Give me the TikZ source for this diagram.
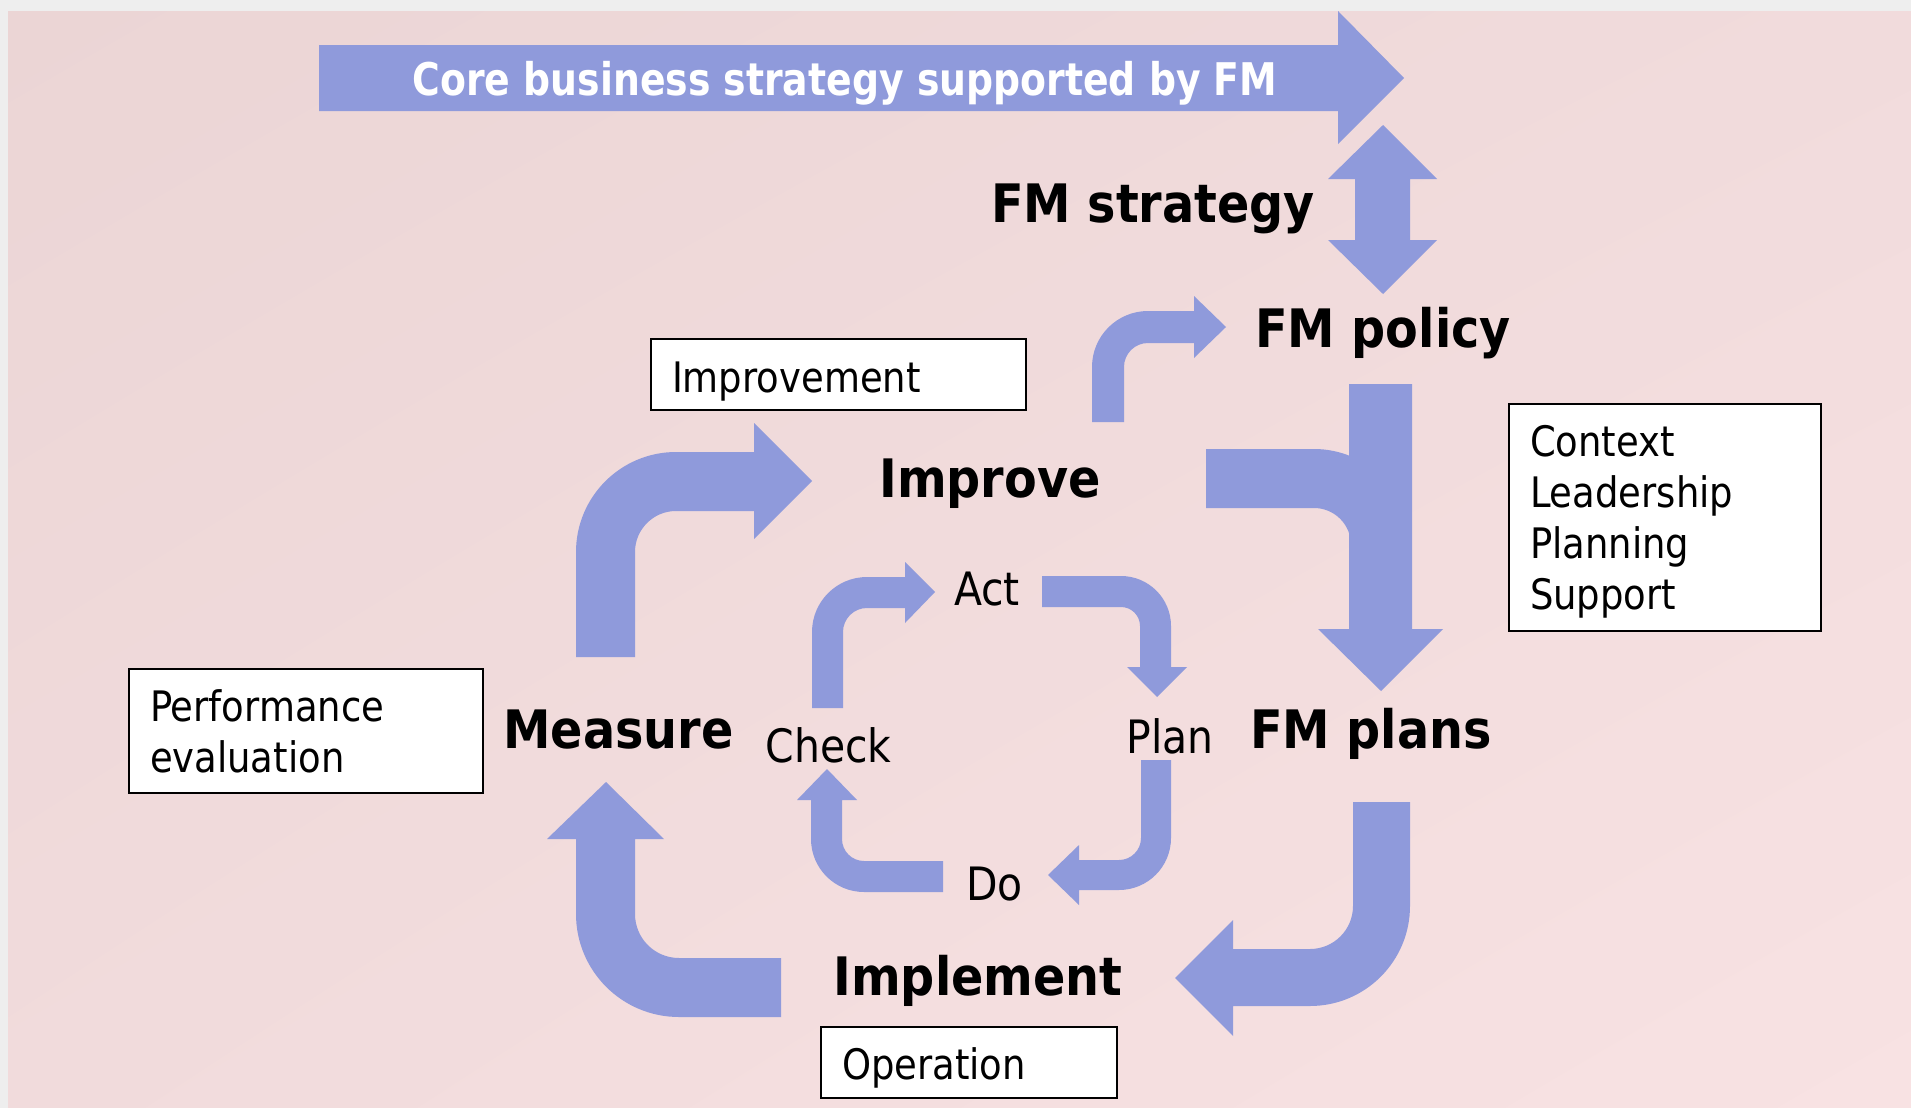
\documentclass[tikz,border=0pt]{standalone}
\usepackage{fontspec}
\usetikzlibrary{shadings}
\setmainfont{DejaVu Sans}[FakeStretch=0.88, BoldFeatures={FakeStretch=0.9}]
\newfontfamily\bannerfont{DejaVu Sans}[FakeStretch=0.84]
\newfontfamily\midfont{DejaVu Sans}[FakeStretch=0.89]
\definecolor{flowc}{HTML}{8F9ADB}
\definecolor{bgtl}{HTML}{EBD5D5}
\definecolor{bgmid}{HTML}{F1DBDC}
\definecolor{bgbr}{HTML}{F8E2E3}
\definecolor{margin}{HTML}{EEEEEE}
\newcommand{\lowerby}[2]{\raisebox{-#1}[\height][\depth]{#2}}
\tikzset{
  flow/.style={fill=flowc, draw=none},
  bigl/.style={inner sep=0pt, anchor=base, font=\fontsize{26.5}{30}\selectfont\bfseries},
  midl/.style={inner sep=0pt, anchor=base, font=\midfont\fontsize{23}{27}\selectfont},
  bannerl/.style={inner sep=0pt, anchor=base, text=white, font=\bannerfont\fontsize{22.5}{26}\selectfont\bfseries},
  box/.style={draw=black, line width=0.75pt, fill=white, anchor=north west,
    inner xsep=10.5pt, inner ysep=0pt, outer sep=0pt, align=left,
    font=\fontsize{21}{25.5}\selectfont}
}
\begin{document}
\begin{tikzpicture}[x=0.5pt,y=-0.5pt]
\useasboundingbox (0,0) rectangle (1911,1108);
% background
\fill[margin] (0,0) rectangle (1911,1108);
\shade[upper left=bgtl, upper right=bgmid, lower left=bgmid, lower right=bgbr] (8,11) rectangle (1911,1108);

% banner arrow
\fill[flow] (319,45) -- (1338,45) -- (1338,11) -- (1404,78) -- (1338,144) -- (1338,111) -- (319,111) -- cycle;
% double arrow strategy <-> policy
\fill[flow] (1383,125) -- (1437,179) -- (1410,179) -- (1410,240) -- (1437,240) -- (1383,294)
  -- (1328,240) -- (1355,240) -- (1355,179) -- (1328,179) -- cycle;
% Improve -> FM policy
\fill[flow] (1092,422) -- (1092,367) arc[start angle=180, end angle=270, radius=56]
  -- (1194,311) -- (1194,296) -- (1226,327) -- (1194,358) -- (1194,343) -- (1148,343)
  arc[start angle=270, end angle=180, radius=24] -- (1124,422) -- cycle;
% FM policy -> FM plans
\fill[flow] (1349,384) -- (1412,384) -- (1412,629) -- (1443,629) -- (1381,691) -- (1318,629) -- (1349,629) -- cycle;
\fill[flow] (1206,449) -- (1314,449) arc[start angle=270, end angle=360, radius=96]
  -- (1351,545) arc[start angle=0, end angle=-90, radius=37] -- (1206,508) -- cycle;
% FM plans -> Implement
\fill[flow] (1353,802) -- (1410,802) -- (1410,906) arc[start angle=0, end angle=90, radius=100]
  -- (1233,1006) -- (1233,1036) -- (1175,978) -- (1233,920) -- (1233,949) -- (1310,949)
  arc[start angle=90, end angle=0, radius=43] -- cycle;
% Implement -> Measure
\fill[flow] (781,958) -- (781,1017) -- (679,1017) arc[start angle=90, end angle=180, radius=103]
  -- (576,839) -- (547,839) -- (606,782) -- (664,839) -- (635,839) -- (635,914)
  arc[start angle=180, end angle=90, radius=44] -- cycle;
% Measure -> Improve
\fill[flow] (576,657) -- (576,552) arc[start angle=180, end angle=270, radius=100]
  -- (754,452) -- (754,423) -- (812,481) -- (754,539) -- (754,511) -- (676,511)
  arc[start angle=270, end angle=180, radius=41] -- (635,657) -- cycle;
% Check -> Act
\fill[flow] (812,708) -- (812,632) arc[start angle=180, end angle=270, radius=55]
  -- (905,577) -- (905,562) -- (935,592) -- (905,623) -- (905,608) -- (867,608)
  arc[start angle=270, end angle=180, radius=24] -- (843,708) -- cycle;
% Act -> Plan
\fill[flow] (1042,576) -- (1121,576) arc[start angle=270, end angle=360, radius=50]
  -- (1171,667) -- (1187,667) -- (1157,697) -- (1127,667) -- (1140,667) -- (1140,626)
  arc[start angle=0, end angle=-90, radius=19] -- (1042,607) -- cycle;
% Plan -> Do
\fill[flow] (1141,760) -- (1171,760) -- (1171,838) arc[start angle=0, end angle=90, radius=52]
  -- (1079,890) -- (1079,905) -- (1048,875) -- (1079,845) -- (1079,860) -- (1119,860)
  arc[start angle=90, end angle=0, radius=22] -- cycle;
% Do -> Check
\fill[flow] (943,861) -- (943,892) -- (864,892) arc[start angle=90, end angle=180, radius=53]
  -- (811,800) -- (797,800) -- (827,769) -- (857,800) -- (842,800) -- (842,839)
  arc[start angle=180, end angle=90, radius=22] -- cycle;

% labels
\node[bannerl] (core) at (845,95) {Core business strategy supported by FM};
\node[bigl] (strat) at (1153,222) {FM strategy};
\node[bigl] (policy) at (1383,347) {FM policy};
\node[bigl] (improve) at (990,497) {Improve};
\node[bigl] (measure) at (618.5,748) {Measure};
\node[bigl] (plans) at (1371,748) {FM plans};
\node[bigl] (implement) at (978,995) {Implement};
\node[midl] (act) at (987,605) {Act};
\node[midl] (check) at (828.5,762) {Check};
\node[midl] (plan) at (1170,753) {Plan};
\node[midl] (do) at (994.5,900) {Do};

% boxes
\node[box, minimum width=187.5pt, minimum height=35.5pt, text width=166.5pt] (impbox) at (651,339) {\lowerby{3.5pt}{Improvement}};
\node[box, minimum width=156pt, minimum height=113.5pt, text width=135pt] (ctxbox) at (1509,404)
  {\lowerby{2pt}{Context}\\\lowerby{2pt}{Leadership}\\\lowerby{2pt}{Planning}\\\lowerby{2pt}{Support}};
\node[box, minimum width=177pt, minimum height=62pt, text width=156pt] (perfbox) at (129,669) {Performance\\evaluation};
\node[box, minimum width=148pt, minimum height=35.5pt, text width=127pt] (opbox) at (821,1027) {\lowerby{2.5pt}{Operation}};
\end{tikzpicture}
\end{document}
